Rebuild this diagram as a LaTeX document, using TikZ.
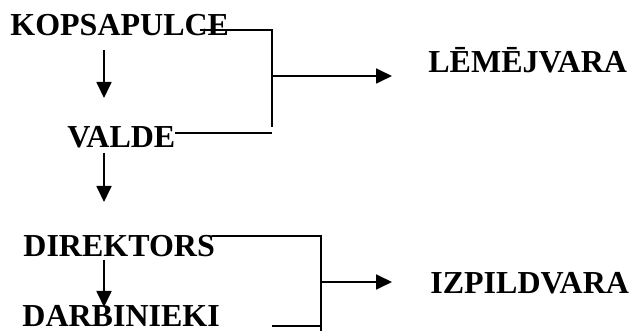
\documentclass[tikz,border=0pt]{standalone}
\usepackage{fontspec}
\setmainfont{Liberation Serif}
\usetikzlibrary{positioning,arrows.meta}

\begin{document}
\begin{tikzpicture}[x=0.5pt,y=0.5pt,yscale=-1,xscale=1,
  lbl/.style={anchor=base west, inner sep=0, font=\fontsize{16}{19}\selectfont\bfseries},
  lnk/.style={line width=0.9pt},
  arr/.style={lnk, -{Triangle[length=8pt,width=7.5pt]}}]
\useasboundingbox (0,0) rectangle (632,331);

% Levels
\node[lbl] (kops) at (10,36) {KOPSAPULCE};
\node[lbl] (valde) at (67,148) {VALDE};
\node[lbl] (dir) at (23,257) {DIREKTORS};
\node[lbl] (darb) at (22,327) {DARBINIEKI};

% Groups
\node[lbl] (lem) at (428,73) {LĒMĒJVARA};
\node[lbl] (izp) at (430,294) {IZPILDVARA};

% Bracket corners
\coordinate (ltop) at (272,30);
\coordinate (lbot) at (272,127);
\coordinate (lmid) at (272,76);
\coordinate (itop) at (321,236);
\coordinate (ibot) at (321,331);
\coordinate (imid) at (321,282);

% Chain arrows
\draw[arr] ([xshift=47pt,yshift=7pt]kops.base west) -- ([xshift=18.5pt,yshift=-25pt]valde.base west);
\draw[arr] ([xshift=18.5pt,yshift=2.5pt]valde.base west) -- ([xshift=40.5pt,yshift=-27.5pt]dir.base west);
\draw[arr] ([xshift=40.5pt,yshift=1.5pt]dir.base west) -- ([xshift=41pt,yshift=-10pt]darb.base west);

% Top bracket
\draw[lnk] ([xshift=95pt,yshift=-3pt]kops.base west) -- (ltop) -- (lbot);
\draw[lnk] ([xshift=54pt,yshift=-7.5pt]valde.base west) -- (lbot |- 0,133);
\draw[arr] (lmid) -- ([xshift=-18pt,yshift=1.5pt]lem.base west);

% Bottom bracket
\draw[lnk] ([xshift=94.5pt,yshift=-10.5pt]dir.base west) -- (itop) -- (ibot);
\draw[lnk] ([xshift=125pt,yshift=-0.5pt]darb.base west) -- (ibot |- 0,326);
\draw[arr] (imid) -- ([xshift=-19pt,yshift=-6pt]izp.base west);

\end{tikzpicture}
\end{document}
